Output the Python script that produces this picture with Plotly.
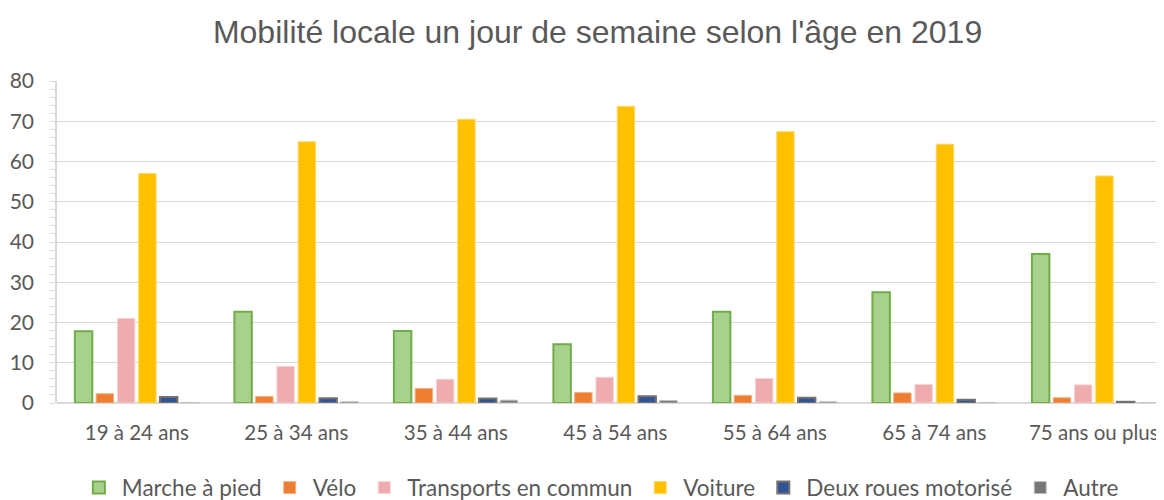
import plotly.graph_objects as go

categories = ["19 à 24 ans", "25 à 34 ans", "35 à 44 ans", "45 à 54 ans",
              "55 à 64 ans", "65 à 74 ans", "75 ans ou plus"]

marche = [17.8, 22.7, 17.9, 14.6, 22.7, 27.5, 37.0]
velo = [2.3, 1.6, 3.6, 2.6, 1.9, 2.5, 1.3]
transports = [21.0, 9.1, 5.9, 6.4, 6.1, 4.6, 4.5]
voiture = [57.0, 64.9, 70.5, 73.7, 67.4, 64.3, 56.4]
deux_roues = [1.5, 1.2, 1.1, 1.7, 1.3, 0.8, 0.3]
autre = [0.1, 0.3, 0.7, 0.6, 0.3, 0.1, 0.0]

series_names = ["Marche à pied", "Vélo", "Transports en commun", "Voiture",
                "Deux roues motorisé", "Autre"]
fill_colors = ["#a9d18e", "#ed7d31", "#efacae", "#ffc000", "#2f5597", "#7a7676"]
line_colors = ["#70ad47", "#f4b183", "#f6d3d4", "#ffd966", "#767171", "#bfbfbf"]
line_widths = [2, 1, 1, 1, 2, 1]

FONT = "Lato"
GREY = "#595959"

fig = go.Figure()
for name, vals, fc, lc, lw in zip(series_names,
                                  [marche, velo, transports, voiture, deux_roues, autre],
                                  fill_colors, line_colors, line_widths):
    fig.add_trace(go.Bar(
        x=categories, y=vals, name=name,
        marker=dict(color=fc, line=dict(color=lc, width=lw)),
    ))

fig.update_layout(
    width=1156, height=492,
    paper_bgcolor="white", plot_bgcolor="white",
    margin=dict(l=49, r=0, t=73, b=97),
    barmode="group", bargap=0.2, bargroupgap=0.18,
    title=dict(text="Mobilité locale un jour de semaine selon l'âge en 2019",
               font=dict(family="Liberation Sans", size=32, color=GREY),
               x=0.51, xanchor="center", xref="container",
               y=0.951, yanchor="middle", yref="container"),
    font=dict(family=FONT, size=20, color=GREY),
    legend=dict(orientation="h", x=0.512, xanchor="center", xref="container",
                y=0.0244, yanchor="middle", yref="container",
                font=dict(family=FONT, size=22.5, color=GREY),
                itemwidth=36, itemclick=False),
    xaxis=dict(type="category", range=[-0.5, 6.44], showgrid=False,
               showline=False, ticks="", ticklabelstandoff=15,
               automargin=False,
               tickfont=dict(family=FONT, size=20.5, color=GREY)),
    yaxis=dict(range=[0, 80], dtick=10, showgrid=True, gridcolor="#d9d9d9",
               gridwidth=1.3, showline=True, linecolor="#d9d9d9", linewidth=1.5,
               zeroline=True, zerolinecolor="#d9d9d9", zerolinewidth=2,
               ticks="outside", ticklen=5, tickcolor="#d9d9d9", tickwidth=1.3,
               minor=dict(dtick=2, ticks="outside", ticklen=5,
                          tickcolor="#d9d9d9", tickwidth=1.3, showgrid=False),
               ticklabelstandoff=12, automargin=False,
               tickfont=dict(family=FONT, size=21, color=GREY)),
    yaxis2=dict(range=[0, 80], dtick=10, overlaying="y", side="left",
                showgrid=False, showline=False, zeroline=False,
                ticks="inside", ticklen=5, tickcolor="#d9d9d9", tickwidth=1.3,
                minor=dict(dtick=2, ticks="inside", ticklen=5,
                           tickcolor="#d9d9d9", tickwidth=1.3, showgrid=False),
                showticklabels=False, automargin=False),
)

fig.write_html("out.html")
